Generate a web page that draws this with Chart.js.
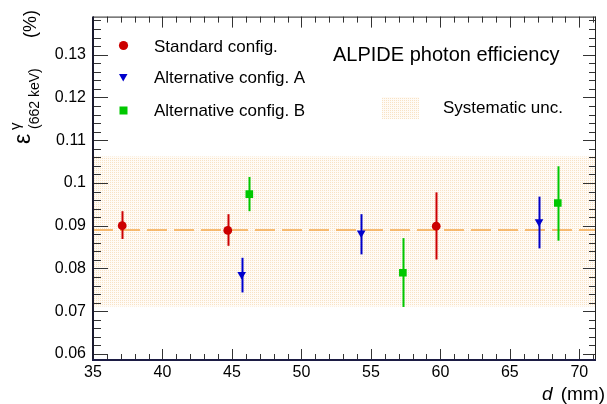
<!DOCTYPE html>
<html lang="en">
<head>
    <meta charset="UTF-8">
    <title>ALPIDE photon efficiency</title>
    <script src="https://cdn.jsdelivr.net/npm/chart.js"></script>
    <style>
        html, body {
            margin: 0;
            padding: 0;
            background: #ffffff;
        }
        .chart-wrap {
            position: relative;
            width: 607px;
            height: 404px;
        }
    </style>
</head>
<body>
    <div class="chart-wrap">
        <canvas id="effChart"></canvas>
    </div>

    <script>
        // distances d (mm) and efficiencies (%)
        const stdX = [37.1, 44.7, 59.7];
        const stdY = [0.0900, 0.0889, 0.0899];
        const stdLo = [0.0869, 0.0853, 0.0821];
        const stdHi = [0.0934, 0.0927, 0.0978];

        const altAX = [45.7, 54.3, 67.1];
        const altAY = [0.0786, 0.0883, 0.0909];
        const altALo = [0.0744, 0.0833, 0.0847];
        const altAHi = [0.0825, 0.0927, 0.0968];

        const altBX = [46.25, 57.3, 68.45];
        const altBY = [0.0974, 0.0790, 0.0953];
        const altBLo = [0.0934, 0.0710, 0.0865];
        const altBHi = [0.1014, 0.0871, 0.1039];

        const bandX = [35, 71.2];
        const bandLow = [0.0711, 0.0711];
        const bandHigh = [0.1062, 0.1062];
        const meanEff = [0.0890, 0.0890];

        const xTicks = [35, 40, 45, 50, 55, 60, 65, 70];
        const yTicks = [0.06, 0.07, 0.08, 0.09, 0.1, 0.11, 0.12, 0.13];

        const FONT = '"Liberation Sans", Arial, Helvetica, sans-serif';
        const RED = '#cc0000', BLUE = '#0000cc', GREEN = '#00c800';

        const pts = (xs, ys) => xs.map((x, i) => ({ x: x, y: ys[i] }));

        // dotted fill like ROOT's hatch style
        function bandPattern() {
            const c = document.createElement('canvas');
            c.width = 2; c.height = 2;
            const g = c.getContext('2d');
            g.fillStyle = '#fffbf6';
            g.fillRect(0, 0, 2, 2);
            g.fillStyle = '#f8e2c4';
            g.fillRect(0, 0, 1, 1);
            return g.createPattern(c, 'repeat');
        }
        const BAND = bandPattern();

        const series = [
            { x: stdX, lo: stdLo, hi: stdHi, color: RED },
            { x: altAX, lo: altALo, hi: altAHi, color: BLUE },
            { x: altBX, lo: altBLo, hi: altBHi, color: GREEN }
        ];

        // ROOT-like frame, inward ticks, error bars, legend and axis titles
        const rootStyle = {
            id: 'rootStyle',
            afterDatasetsDraw(chart) {
                const ctx = chart.ctx;
                const xs = chart.scales.x, ys = chart.scales.y;
                ctx.save();
                ctx.lineWidth = 2;
                series.forEach(s => {
                    ctx.strokeStyle = s.color;
                    s.x.forEach((x, i) => {
                        const px = Math.round(xs.getPixelForValue(x)) + 0.5;
                        ctx.beginPath();
                        ctx.moveTo(px, ys.getPixelForValue(s.lo[i]));
                        ctx.lineTo(px, ys.getPixelForValue(s.hi[i]));
                        ctx.stroke();
                    });
                });
                ctx.restore();
            },
            afterDraw(chart) {
                const ctx = chart.ctx;
                const a = chart.chartArea;
                const xs = chart.scales.x, ys = chart.scales.y;
                ctx.save();

                // ticks
                ctx.strokeStyle = '#333';
                ctx.lineWidth = 1;
                ctx.beginPath();
                for (let v = 35; v <= 71; v++) {
                    const px = Math.round(xs.getPixelForValue(v)) + 0.5;
                    const len = v % 5 === 0 ? 11 : 6;
                    ctx.moveTo(px, a.bottom); ctx.lineTo(px, a.bottom - len);
                    ctx.moveTo(px, a.top); ctx.lineTo(px, a.top + len);
                }
                for (let k = 30; k <= 69; k++) {
                    const v = k * 0.002;
                    if (v < ys.min || v > ys.max) continue;
                    const py = Math.round(ys.getPixelForValue(v)) + 0.5;
                    const major = k % 5 === 0;
                    ctx.moveTo(a.left, py); ctx.lineTo(a.left + (major ? 15 : 8), py);
                    ctx.moveTo(a.right, py); ctx.lineTo(a.right - (major ? 13 : 7), py);
                }
                ctx.stroke();

                // frame
                ctx.strokeStyle = '#222';
                ctx.lineWidth = 1;
                ctx.beginPath();
                ctx.moveTo(a.left, a.top + 0.5); ctx.lineTo(a.right, a.top + 0.5);
                ctx.moveTo(a.right - 0.5, a.top); ctx.lineTo(a.right - 0.5, a.bottom);
                ctx.stroke();
                ctx.lineWidth = 2;
                ctx.strokeStyle = '#1a1a2e';
                ctx.beginPath();
                ctx.moveTo(a.left, a.top); ctx.lineTo(a.left, a.bottom);
                ctx.stroke();
                ctx.strokeStyle = '#1c1c44';
                ctx.beginPath();
                ctx.moveTo(a.left - 1, a.bottom); ctx.lineTo(a.right, a.bottom);
                ctx.stroke();

                // legend
                ctx.fillStyle = '#000';
                ctx.font = '17px ' + FONT;
                ctx.textBaseline = 'middle';
                ctx.textAlign = 'left';
                ctx.fillText('Standard config.', 154, 47);
                ctx.fillText('Alternative config. A', 154, 78);
                ctx.fillText('Alternative config. B', 154, 111);
                ctx.fillText('Systematic unc.', 443, 108);

                ctx.fillStyle = RED;
                ctx.beginPath(); ctx.arc(123.5, 45.5, 4.6, 0, Math.PI * 2); ctx.fill();
                ctx.fillStyle = BLUE;
                ctx.beginPath();
                ctx.moveTo(119, 74); ctx.lineTo(127.5, 74); ctx.lineTo(123.2, 81.5);
                ctx.closePath(); ctx.fill();
                ctx.fillStyle = GREEN;
                ctx.fillRect(119.5, 106.5, 8, 8);

                ctx.fillStyle = BAND;
                ctx.fillRect(382, 97, 37, 22);

                ctx.fillStyle = '#000';
                ctx.font = '20px ' + FONT;
                ctx.fillText('ALPIDE photon efficiency', 333, 55);

                // x title
                ctx.textBaseline = 'alphabetic';
                ctx.textAlign = 'right';
                ctx.font = '19px ' + FONT;
                ctx.fillText('(mm)', 605, 400);
                const w = ctx.measureText('(mm)').width;
                ctx.font = 'italic 19px ' + FONT;
                ctx.fillText('d', 605 - w - 8, 400);

                // y title (rotated)
                ctx.rotate(-Math.PI / 2);
                ctx.textAlign = 'left';
                ctx.font = '23px ' + FONT;
                ctx.fillText('\u03b5', -144, 30);
                ctx.font = '15px ' + FONT;
                ctx.fillText('\u03b3', -130, 20);
                ctx.font = '14px ' + FONT;
                ctx.fillText('(662 keV)', -129, 39);
                ctx.font = '18px ' + FONT;
                ctx.fillText('(%)', -38, 36);

                ctx.restore();
            }
        };

        new Chart(document.getElementById('effChart'), {
            type: 'scatter',
            data: {
                datasets: [
                    {
                        label: 'Standard config.',
                        data: pts(stdX, stdY),
                        pointStyle: 'circle',
                        pointRadius: 4.4,
                        backgroundColor: RED,
                        borderColor: RED,
                        borderWidth: 0,
                        order: 0
                    },
                    {
                        label: 'Alternative config. A',
                        data: pts(altAX, altAY),
                        pointStyle: 'triangle',
                        pointRotation: 180,
                        pointRadius: 5,
                        backgroundColor: BLUE,
                        borderColor: BLUE,
                        borderWidth: 0,
                        order: 0
                    },
                    {
                        label: 'Alternative config. B',
                        data: pts(altBX, altBY),
                        pointStyle: 'rect',
                        pointRadius: 5.4,
                        backgroundColor: GREEN,
                        borderColor: GREEN,
                        borderWidth: 0,
                        order: 0
                    },
                    {
                        type: 'line',
                        label: 'Mean',
                        data: pts(bandX, meanEff),
                        borderColor: '#f5a84a',
                        borderWidth: 1.5,
                        borderDash: [20, 7],
                        pointRadius: 0,
                        fill: false,
                        order: 5
                    },
                    {
                        type: 'line',
                        label: 'Systematic unc.',
                        data: pts(bandX, bandHigh),
                        borderWidth: 0,
                        pointRadius: 0,
                        backgroundColor: BAND,
                        fill: '+1',
                        order: 10
                    },
                    {
                        type: 'line',
                        label: 'band low',
                        data: pts(bandX, bandLow),
                        borderWidth: 0,
                        pointRadius: 0,
                        fill: false,
                        order: 10
                    }
                ]
            },
            options: {
                responsive: true,
                maintainAspectRatio: false,
                animation: false,
                layout: {
                    padding: { top: 8, right: 11, left: 0, bottom: 0 }
                },
                plugins: {
                    legend: { display: false },
                    tooltip: { enabled: false }
                },
                scales: {
                    x: {
                        type: 'linear',
                        min: bandX[0],
                        max: bandX[1],
                        afterFit: s => { s.height = 44; },
                        afterBuildTicks: s => { s.ticks = xTicks.map(v => ({ value: v })); },
                        grid: { display: false, drawTicks: false },
                        border: { display: false },
                        ticks: {
                            padding: 3,
                            autoSkip: false,
                            maxRotation: 0,
                            color: '#000',
                            font: { size: 16, family: FONT }
                        }
                    },
                    y: {
                        type: 'linear',
                        min: 0.0586,
                        max: 0.1389,
                        afterFit: s => { s.width = 93; },
                        afterBuildTicks: s => { s.ticks = yTicks.map(v => ({ value: v })); },
                        grid: { display: false, drawTicks: false },
                        border: { display: false },
                        ticks: {
                            padding: 7,
                            autoSkip: false,
                            color: '#000',
                            font: { size: 16, family: FONT },
                            callback: v => String(Number(v.toFixed(2)))
                        }
                    }
                }
            },
            plugins: [rootStyle]
        });
    </script>
</body>
</html>
